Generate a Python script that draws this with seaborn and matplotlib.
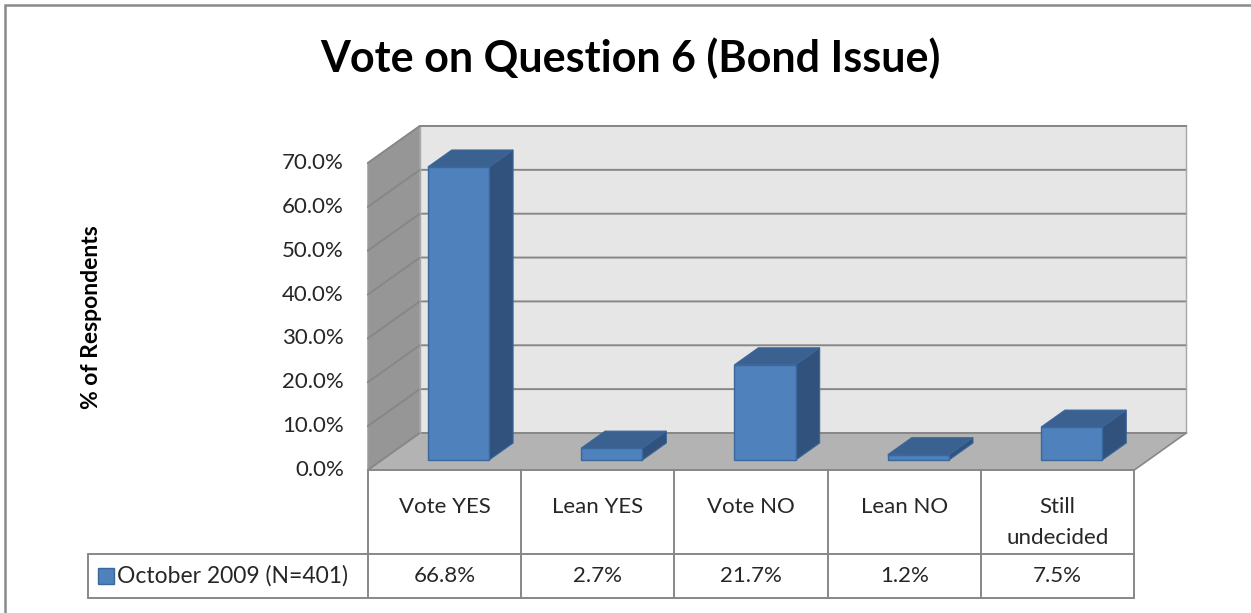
import numpy as np
import pandas as pd
import matplotlib
matplotlib.use("Agg")
import matplotlib.pyplot as plt
from matplotlib.patches import Polygon, Rectangle
import seaborn as sns

# ---- data ----
categories = ["Vote YES", "Lean YES", "Vote NO", "Lean NO", "Still\nundecided"]
values = [66.8, 2.7, 21.7, 1.2, 7.5]
value_labels = ["66.8%", "2.7%", "21.7%", "1.2%", "7.5%"]
y_ticks = [0, 10, 20, 30, 40, 50, 60, 70]
series_name = "October 2009 (N=401)"
title = "Vote on Question 6 (Bond Issue)"
y_label = "% of Respondents"

# ---- geometry (pixels of the output image) ----
W, H = 1251, 613
X0_PX, CAT_PX = 458.5, 153.3     # bar front plane: category 0 centre, px per category
Y0_PX, PCT_PX = 460.0, 4.386     # bar front plane: 0% line, px per percent
DX = 52.0 / CAT_PX               # full depth offset in data units
DY = 37.0 / PCT_PX
D_FRONT, D_BACK, D_BAR = -0.27, 0.73, 0.46

BLUE = "#4F81BD"
BLUE_TOP = "#3A6190"
BLUE_SIDE = "#30527D"
BLUE_EDGE = "#3A679C"
GRID = "#878787"
TXT = "#262626"
FS = 16


def px_x(p):
    return (p - X0_PX) / CAT_PX


def px_y(p):
    return (Y0_PX - p) / PCT_PX


def P(x, y, d):
    return (x + d * DX, y + d * DY)


sns.set_theme(style="white")
plt.rcParams["font.family"] = ["Lato", "DejaVu Sans"]

fig = plt.figure(figsize=(W / 100, H / 100), dpi=100)
ax = fig.add_axes([0, 0, 1, 1])

df = pd.DataFrame({"category": categories, "value": values})
sns.barplot(data=df, x="category", y="value", color=BLUE, saturation=1,
            width=0.4, errorbar=None, edgecolor=BLUE_EDGE, linewidth=1,
            ax=ax, zorder=5)
bars = list(ax.patches)

ax.set_xlim(px_x(0), px_x(W))
ax.set_ylim(px_y(H), px_y(0))
ax.axis("off")

left, right = -0.5, len(categories) - 0.5
top = y_ticks[-1]


def poly(pts, **kw):
    ax.add_patch(Polygon([P(*p) for p in pts], closed=True, **kw))


# walls and floor
poly([(left, 0, D_FRONT), (right, 0, D_FRONT), (right, 0, D_BACK), (left, 0, D_BACK)],
     fc="#B3B3B3", ec="none", zorder=1)
poly([(left, 0, D_BACK), (right, 0, D_BACK), (right, top, D_BACK), (left, top, D_BACK)],
     fc="#E6E6E6", ec="none", zorder=1)
poly([(left, 0, D_FRONT), (left, 0, D_BACK), (left, top, D_BACK), (left, top, D_FRONT)],
     fc="#969696", ec="#A0A0A0", lw=0.8, zorder=1)

# gridlines on left and back wall
for t in y_ticks:
    pts = [P(left, t, D_FRONT), P(left, t, D_BACK), P(right, t, D_BACK)]
    ax.plot([p[0] for p in pts], [p[1] for p in pts], color=GRID, lw=1.4, zorder=2,
            solid_joinstyle="miter")
for x in (left, right):
    a, b = P(x, 0, D_BACK), P(x, top, D_BACK)
    ax.plot([a[0], b[0]], [a[1], b[1]], color="#A8A8A8", lw=1.0, zorder=2)
a, b = P(left, top, D_BACK), P(right, top, D_BACK)
ax.plot([a[0], b[0]], [a[1], b[1]], color=GRID, lw=1.4, zorder=2)
# floor right edge
a, b = P(right, 0, D_FRONT), P(right, 0, D_BACK)
ax.plot([a[0], b[0]], [a[1], b[1]], color=GRID, lw=1.2, zorder=2)

# 3D faces of the bars
for bar in bars:
    x0 = bar.get_x()
    x1 = x0 + bar.get_width()
    h = bar.get_height()
    poly([(x0, h, 0), (x1, h, 0), (x1, h, D_BAR), (x0, h, D_BAR)],
         fc=BLUE_TOP, ec=BLUE_EDGE, lw=0.8, zorder=4)
    poly([(x1, 0, 0), (x1, h, 0), (x1, h, D_BAR), (x1, 0, D_BAR)],
         fc=BLUE_SIDE, ec=BLUE_EDGE, lw=0.8, zorder=4)

# y tick labels
for t in y_ticks:
    x, y = P(left, t, D_FRONT)
    ax.text(x - 24 / CAT_PX, y, f"{t:.1f}%", ha="right", va="center",
            fontsize=FS, color=TXT)

ax.text(px_x(92), px_y(317), y_label, rotation=90, ha="center", va="center",
        fontsize=16.5, fontweight="bold", color="black")

# ---- data table ----
TAB_TOP, TAB_MID, TAB_BOT, LEG_LEFT = 470, 554, 598, 88
col_edges = [P(i - 0.5, 0, D_FRONT)[0] for i in range(len(categories) + 1)]
tab_kw = dict(color=GRID, lw=1.4, zorder=3)
for xe in col_edges:
    ax.plot([xe, xe], [px_y(TAB_TOP), px_y(TAB_BOT)], **tab_kw)
ax.plot([col_edges[0], col_edges[-1]], [px_y(TAB_TOP)] * 2, **tab_kw)
ax.plot([px_x(LEG_LEFT), col_edges[-1]], [px_y(TAB_MID)] * 2, **tab_kw)
ax.plot([px_x(LEG_LEFT), col_edges[-1]], [px_y(TAB_BOT)] * 2, **tab_kw)
ax.plot([px_x(LEG_LEFT)] * 2, [px_y(TAB_MID), px_y(TAB_BOT)], **tab_kw)

for i, (cat, lab) in enumerate(zip(categories, value_labels)):
    xc = (col_edges[i] + col_edges[i + 1]) / 2
    for j, line in enumerate(cat.split("\n")):
        ax.text(xc, px_y(507 + 31 * j), line, ha="center", va="center",
                fontsize=FS, color=TXT)
    ax.text(xc, px_y(576), lab, ha="center", va="center", fontsize=FS, color=TXT)

ax.add_patch(Rectangle((px_x(98), px_y(584)), 16 / CAT_PX, 16 / PCT_PX,
                       fc=BLUE, ec=BLUE_EDGE, lw=1, zorder=4))
ax.text(px_x(117), px_y(576), series_name, ha="left", va="center",
        fontsize=16.5, color=TXT)

# title
ax.text(px_x(630), px_y(58), title, ha="center", va="center",
        fontsize=31, fontweight="bold", color="black")

# outer chart frame
fig.patches.append(Rectangle((5 / W, -0.1), 1.2, (H - 5) / H + 0.1, transform=fig.transFigure,
                             fill=False, ec="#8A8A8A", lw=1.8))

fig.savefig("out.png", dpi=100)
